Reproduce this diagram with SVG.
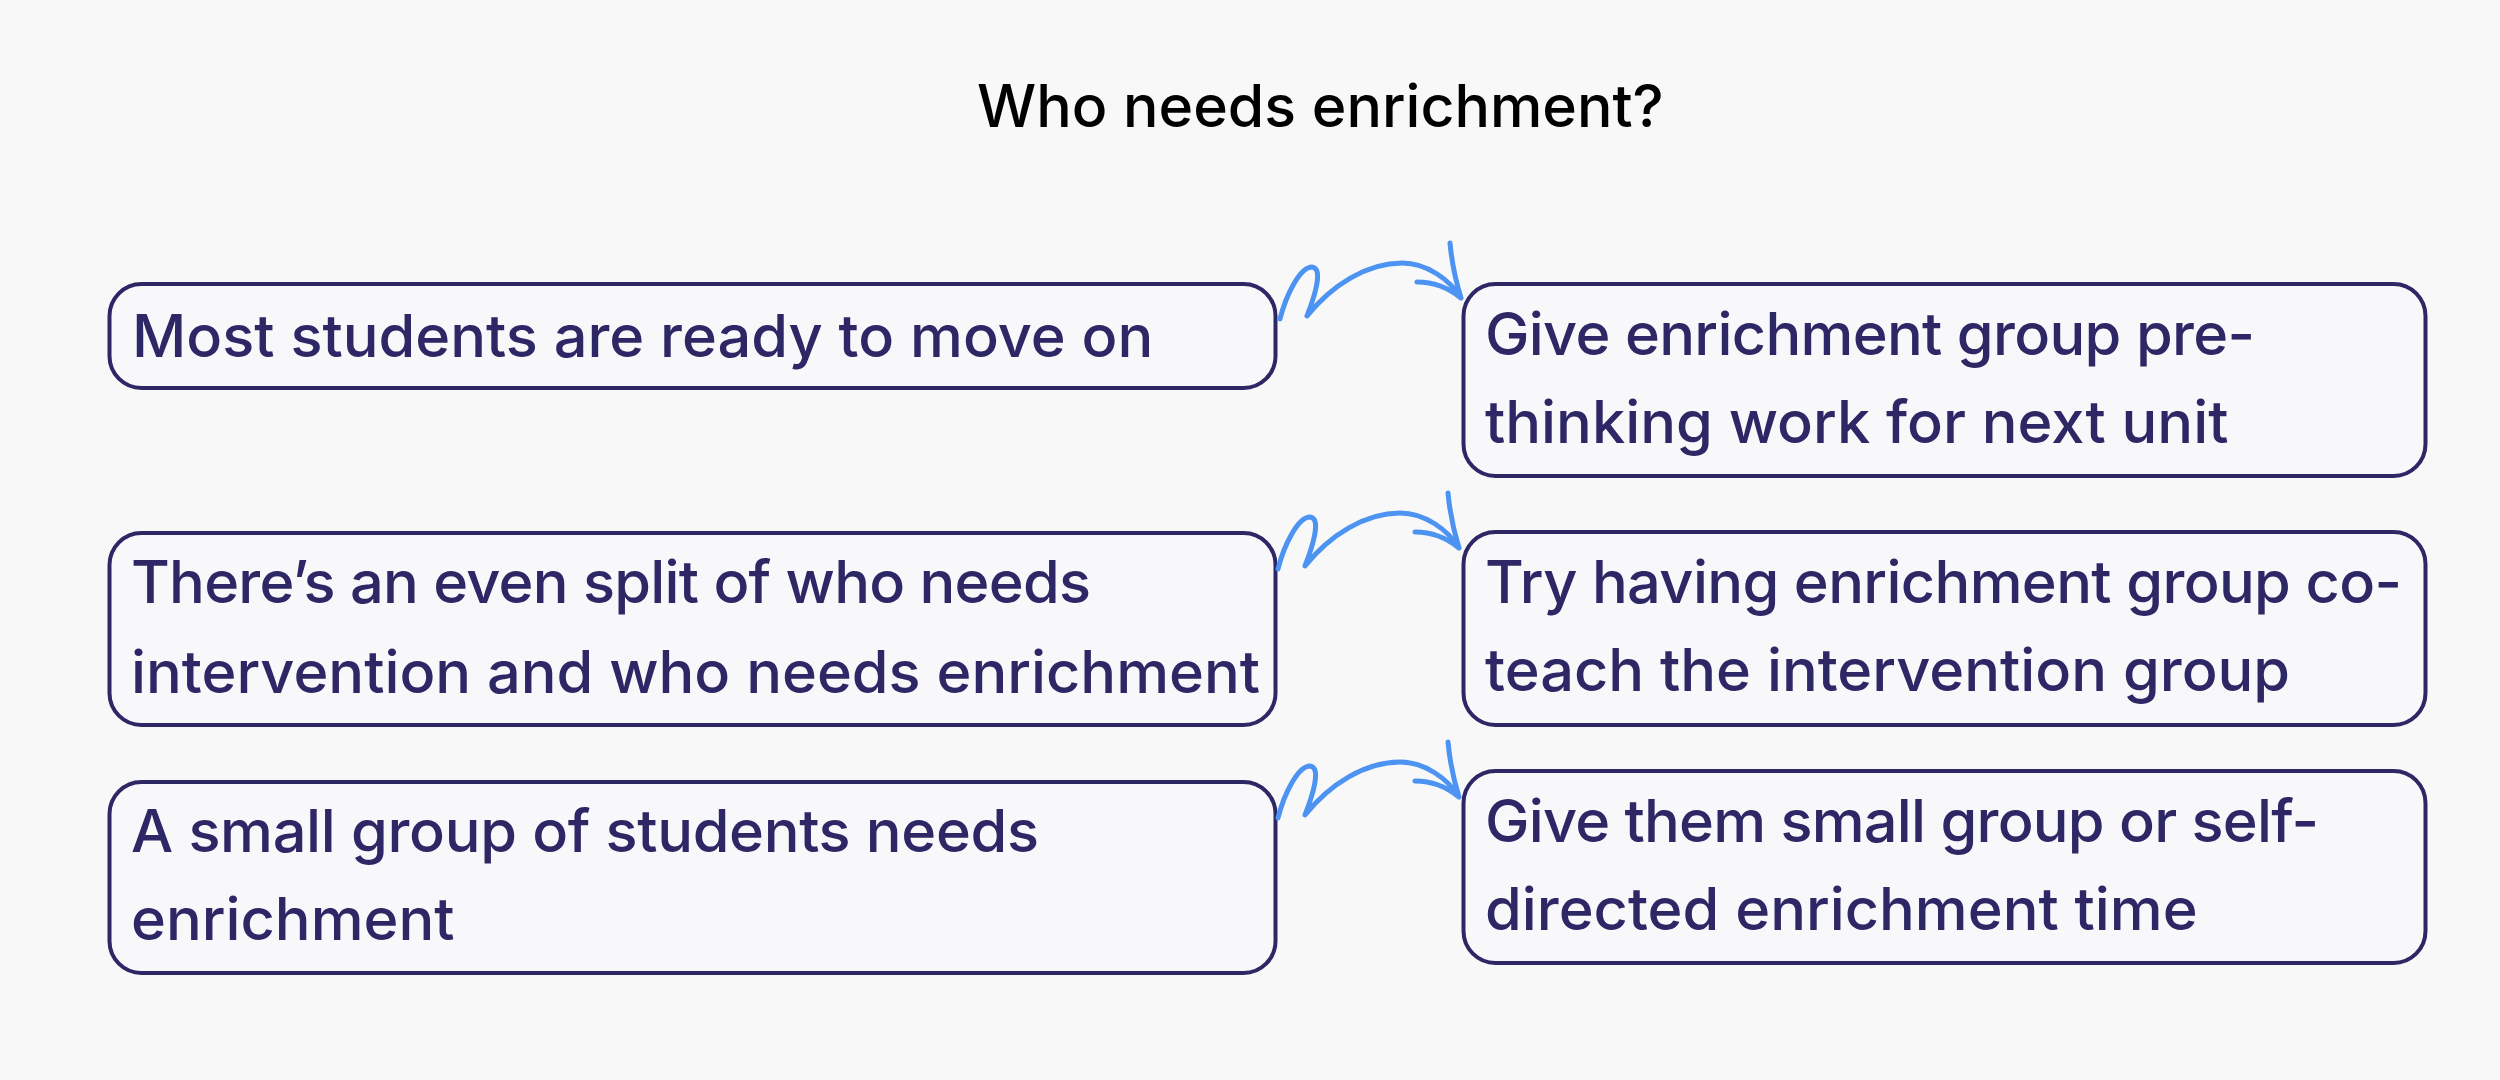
<svg xmlns="http://www.w3.org/2000/svg" width="2500" height="1080" viewBox="0 0 2500 1080">
<defs>
<style>
.bg{fill:#f8f8f8}
.box{fill:#f8f8fa;stroke:#2e2766;stroke-width:4}
.t{font-family:Inter,"Liberation Sans",sans-serif;font-weight:500;font-size:59.5px;fill:#2e2766}
.title{font-family:Inter,"Liberation Sans",sans-serif;font-weight:500;font-size:59px;fill:#000}
.arr{fill:none;stroke:#4d93f2;stroke-width:5;stroke-linecap:round;stroke-linejoin:round}
</style>
<path id="arrow" d="M1278,569 C1284,545 1298,517 1310,517 C1322,518 1312,548 1305,566 C1330,535 1365,513 1400,513 C1425,513 1448,530 1459,548 M1448,493 C1450,515 1455,535 1459,548 M1415,532 C1432,532 1448,539 1459,548"/>
</defs>
<rect class="bg" x="0" y="0" width="2500" height="1080"/>
<text class="title" x="977" y="127">Who needs enrichment?</text>
<g id="node-l1">
<rect class="box" x="109.5" y="284" width="1166" height="104" rx="32"/>
<text class="t" x="132" y="357">Most students are ready to move on</text>
</g>
<g id="node-r1">
<rect class="box" x="1463.5" y="284" width="962" height="192" rx="32"/>
<text class="t" x="1485" y="355" textLength="770" lengthAdjust="spacing">Give enrichment group pre-</text>
<text class="t" x="1485" y="443">thinking work for next unit</text>
</g>
<g id="node-l2">
<rect class="box" x="109.5" y="533" width="1166" height="192" rx="32"/>
<text class="t" x="131" y="603" textLength="960" lengthAdjust="spacing">There’s an even split of who needs</text>
<text class="t" x="131" y="693">intervention and who needs enrichment</text>
</g>
<g id="node-r2">
<rect class="box" x="1463.5" y="532" width="962" height="193" rx="32"/>
<text class="t" x="1485" y="603" textLength="917" lengthAdjust="spacing">Try having enrichment group co-</text>
<text class="t" x="1485" y="691">teach the intervention group</text>
</g>
<g id="node-l3">
<rect class="box" x="109.5" y="782" width="1166" height="191" rx="32"/>
<text class="t" x="131" y="852" textLength="908" lengthAdjust="spacing">A small group of students needs</text>
<text class="t" x="131" y="940">enrichment</text>
</g>
<g id="node-r3">
<rect class="box" x="1463.5" y="771" width="962" height="192" rx="32"/>
<text class="t" x="1485" y="842" textLength="834" lengthAdjust="spacing">Give them small group or self-</text>
<text class="t" x="1485" y="930">directed enrichment time</text>
</g>
<g id="connectors" class="arr">
<use href="#arrow" transform="translate(2,-250)"/>
<use href="#arrow"/>
<use href="#arrow" transform="translate(0,249)"/>
</g>
</svg>
